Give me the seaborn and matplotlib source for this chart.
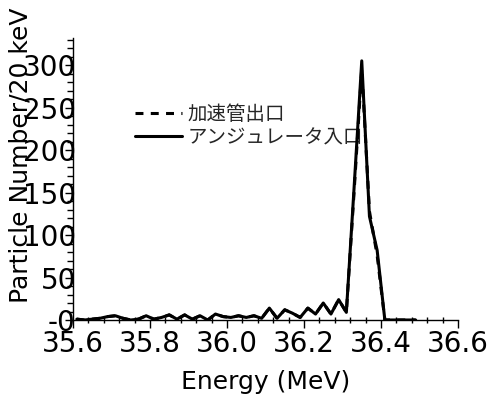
import numpy as np
import pandas as pd
import matplotlib
matplotlib.use("Agg")
import matplotlib.pyplot as plt
from matplotlib.ticker import MultipleLocator
import seaborn as sns

# bin centres (MeV), 20 keV bins
energy = [35.61, 35.63, 35.65, 35.67, 35.69, 35.71, 35.73, 35.75, 35.77, 35.79,
          35.81, 35.83, 35.85, 35.87, 35.89, 35.91, 35.93, 35.95, 35.97, 35.99,
          36.01, 36.03, 36.05, 36.07, 36.09, 36.11, 36.13, 36.15, 36.17, 36.19,
          36.21, 36.23, 36.25, 36.27, 36.29, 36.31, 36.33, 36.35, 36.37, 36.39,
          36.41, 36.43, 36.45, 36.47, 36.49]
# accelerator exit
counts_exit = [1, 0, 1, 2, 4, 5, 2, 0, 1, 5,
               1, 3, 6, 1, 6, 1, 5, 0, 7, 4,
               3, 5, 3, 5, 2, 14, 2, 12, 8, 3,
               14, 7, 20, 7, 24, 9, 150, 296, 128, 76,
               0, 0, 0, 0, 0]
# undulator entrance
counts_und = [1, 0, 1, 2, 4, 5, 2, 0, 1, 5,
              1, 3, 6, 1, 6, 1, 5, 0, 7, 4,
              3, 5, 3, 5, 2, 14, 2, 12, 8, 3,
              14, 7, 20, 7, 24, 9, 155, 305, 122, 82,
              0, 0, 0, 0, 0]
labels = ["加速管出口", "アンジュレータ入口"]
xticks = [35.6, 35.8, 36.0, 36.2, 36.4, 36.6]
xticklabels = ["35.6", "35.8", "36.0", "36.2", "36.4", "36.6"]
yticks = [0, 50, 100, 150, 200, 250, 300]
yticklabels = ["-0", "50", "100", "150", "200", "250", "300"]

df = pd.DataFrame({
    "energy": energy * 2,
    "count": counts_exit + counts_und,
    "where": [labels[0]] * len(energy) + [labels[1]] * len(energy),
})

sns.set_style("ticks")
plt.rcParams["font.family"] = ["DejaVu Sans", "Noto Sans CJK JP"]

fig = plt.figure(figsize=(5.0, 3.99), dpi=100)
ax = fig.add_axes([0.146, 0.198, 0.77, 0.707])

sns.lineplot(data=df, x="energy", y="count", style="where",
             dashes={labels[0]: (2.6, 2.4), labels[1]: ""},
             color="black", linewidth=2.2, ax=ax, zorder=3)

ax.set_xlim(35.6, 36.6)
ax.set_ylim(0, 332)
ax.set_xticks(xticks)
ax.set_xticklabels(xticklabels)
ax.set_yticks(yticks)
ax.set_yticklabels(yticklabels)
ax.xaxis.set_minor_locator(MultipleLocator(0.04))
ax.yaxis.set_minor_locator(MultipleLocator(10))

ax.tick_params(axis="both", which="major", labelsize=20, direction="out",
               length=6, width=1, color="black", labelcolor="black")
ax.tick_params(axis="y", which="major", pad=-8)
ax.tick_params(axis="x", which="major", pad=1)
ax.tick_params(axis="x", which="minor", direction="inout", length=5, width=1, color="black")
ax.tick_params(axis="y", which="minor", direction="out", length=4, width=1, color="black")

for s in ["top", "right"]:
    ax.spines[s].set_visible(False)
for s in ["left", "bottom"]:
    ax.spines[s].set_color("black")
    ax.spines[s].set_linewidth(1)

ax.set_xlabel("Energy (MeV)", fontsize=18, color="black", labelpad=9)
ax.set_ylabel("Particle Number/20 keV", fontsize=18, color="black")
ax.yaxis.set_label_coords(-0.104, 0.585)

leg = ax.legend(loc="upper left", bbox_to_anchor=(0.161, 0.765), frameon=False,
                prop={"family": "Noto Sans CJK JP", "size": 14},
                handlelength=2.4, handletextpad=0.3, labelspacing=0.1,
                borderpad=0, borderaxespad=0)
leg.set_zorder(1)

fig.savefig("out.png", dpi=100)
